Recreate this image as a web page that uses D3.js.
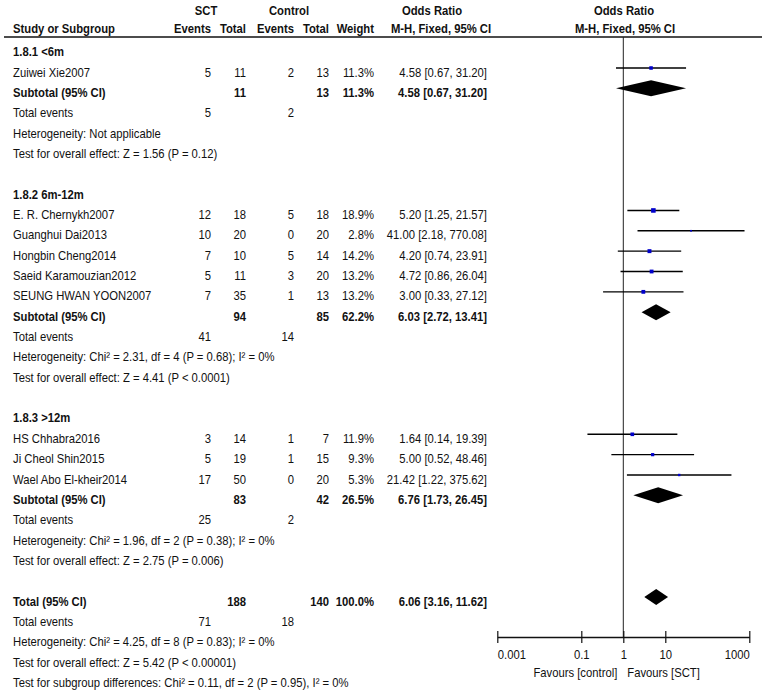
<!DOCTYPE html>
<html><head><meta charset="utf-8">
<script src="https://cdn.jsdelivr.net/npm/d3@7"></script>
<style>
html,body{margin:0;padding:0;background:#fff;}
svg text{font-family:"Liberation Sans",Arial,sans-serif;font-size:12px;fill:#111;}
</style></head>
<body>
<svg id="chart" width="762" height="692"></svg>
<script>
// ---- data ----
const groupLabels = ["1.8.1 <6m", "1.8.2 6m-12m", "1.8.3 >12m"];
const studyNames = ["Zuiwei Xie2007", "E. R. Chernykh2007", "Guanghui Dai2013", "Hongbin Cheng2014", "Saeid Karamouzian2012", "SEUNG HWAN YOON2007", "HS Chhabra2016", "Ji Cheol Shin2015", "Wael Abo El-kheir2014"];
const studyGroup = [0, 1, 1, 1, 1, 1, 2, 2, 2];
const sctEvents = [5, 12, 10, 7, 5, 7, 3, 5, 17];
const sctTotals = [11, 18, 20, 10, 11, 35, 14, 19, 50];
const ctrlEvents = [2, 5, 0, 5, 3, 1, 1, 1, 0];
const ctrlTotals = [13, 18, 20, 14, 20, 13, 7, 15, 20];
const weights = [11.3, 18.9, 2.8, 14.2, 13.2, 13.2, 11.9, 9.3, 5.3];
const orEst = [4.58, 5.20, 41.00, 4.20, 4.72, 3.00, 1.64, 5.00, 21.42];
const orLow = [0.67, 1.25, 2.18, 0.74, 0.86, 0.33, 0.14, 0.52, 1.22];
const orHigh = [31.20, 21.57, 770.08, 23.91, 26.04, 27.12, 19.39, 48.46, 375.62];

const subSctTotal = [11, 94, 83];
const subCtrlTotal = [13, 85, 42];
const subWeight = [11.3, 62.2, 26.5];
const subOr = [4.58, 6.03, 6.76];
const subLow = [0.67, 2.72, 1.73];
const subHigh = [31.20, 13.41, 26.45];
const subSctEvents = [5, 41, 25];
const subCtrlEvents = [2, 14, 2];
const subHet = ["Heterogeneity: Not applicable",
  "Heterogeneity: Chi² = 2.31, df = 4 (P = 0.68); I² = 0%",
  "Heterogeneity: Chi² = 1.96, df = 2 (P = 0.38); I² = 0%"];
const subTest = ["Test for overall effect: Z = 1.56 (P = 0.12)",
  "Test for overall effect: Z = 4.41 (P < 0.0001)",
  "Test for overall effect: Z = 2.75 (P = 0.006)"];

const totSct = 188, totCtrl = 140, totWeight = 100.0;
const totOr = 6.06, totLow = 3.16, totHigh = 11.62;
const totSctEvents = 71, totCtrlEvents = 18;
const totHet = "Heterogeneity: Chi² = 4.25, df = 8 (P = 0.83); I² = 0%";
const totTest = "Test for overall effect: Z = 5.42 (P < 0.00001)";
const subDiff = "Test for subgroup differences: Chi² = 0.11, df = 2 (P = 0.95), I² = 0%";

const tickValues = [0.001, 0.1, 1, 10, 1000];
const tickLabels = ["0.001", "0.1", "1", "10", "1000"];
const favLeft = "Favours [control]", favRight = "Favours [SCT]";

// ---- layout ----
const svg = d3.select("#chart");
const x = d3.scaleLog().domain([0.001, 1000]).range([497.3, 749.3]);
const rowY = i => 47.65 + 20.35 * i;
const TXT = 8.5; // baseline offset
const SX = 0.94; // horizontal condensing of the font
const col = {name: 13, se: 211, st: 246, ce: 294, ct: 329, w: 374, or: 487};
const f2 = d3.format(".2f"), f1 = d3.format(".1f");
const orText = (o, l, h) => `${f2(o)} [${f2(l)}, ${f2(h)}]`;

function txt(xp, y, s, anchor = "start", bold = false) {
  svg.append("text").attr("x", 0).attr("y", 0)
    .attr("transform", `translate(${xp},${y}) scale(${SX},1)`)
    .attr("text-anchor", anchor)
    .attr("font-weight", bold ? "bold" : "normal").text(s);
}

// header
txt(206, 15, "SCT", "middle", true);
txt(289, 15, "Control", "middle", true);
txt(432, 15, "Odds Ratio", "middle", true);
txt(624, 15, "Odds Ratio", "middle", true);
txt(col.name, 33, "Study or Subgroup", "start", true);
txt(col.se, 33, "Events", "end", true);
txt(col.st, 33, "Total", "end", true);
txt(col.ce, 33, "Events", "end", true);
txt(col.ct, 33, "Total", "end", true);
txt(col.w, 33, "Weight", "end", true);
txt(441, 33, "M-H, Fixed, 95% CI", "middle", true);
txt(625, 33, "M-H, Fixed, 95% CI", "middle", true);
svg.append("line").attr("x1", 4).attr("x2", 762).attr("y1", 37).attr("y2", 37)
  .attr("stroke", "#111").attr("stroke-width", 1.5);

// null line
svg.append("line").attr("x1", x(1)).attr("x2", x(1)).attr("y1", 37).attr("y2", 637)
  .attr("stroke", "#222").attr("stroke-width", 1);

function diamond(y, o, l, h) {
  const hh = 8;
  svg.append("path")
    .attr("d", `M${x(l)},${y} L${x(o)},${y - hh} L${x(h)},${y} L${x(o)},${y + hh} Z`)
    .attr("fill", "#000");
}

const groupStart = [0, 7, 18];
groupLabels.forEach((g, gi) => {
  let r = groupStart[gi];
  txt(col.name, rowY(r) + TXT, g, "start", true);
  r++;
  studyNames.forEach((n, si) => {
    if (studyGroup[si] !== gi) return;
    const y = rowY(r);
    txt(col.name, y + TXT, n);
    txt(col.se, y + TXT, sctEvents[si], "end");
    txt(col.st, y + TXT, sctTotals[si], "end");
    txt(col.ce, y + TXT, ctrlEvents[si], "end");
    txt(col.ct, y + TXT, ctrlTotals[si], "end");
    txt(col.w, y + TXT, f1(weights[si]) + "%", "end");
    txt(col.or, y + TXT, orText(orEst[si], orLow[si], orHigh[si]), "end");
    svg.append("line").attr("x1", x(orLow[si])).attr("x2", x(orHigh[si]))
      .attr("y1", y).attr("y2", y).attr("stroke", "#000").attr("stroke-width", 1.4);
    const s = Math.sqrt(weights[si]) * 1.05;
    svg.append("rect").attr("x", x(orEst[si]) - s / 2).attr("y", y - s / 2)
      .attr("width", s).attr("height", s).attr("fill", "#0000cc");
    r++;
  });
  let y = rowY(r);
  txt(col.name, y + TXT, "Subtotal (95% CI)", "start", true);
  txt(col.st, y + TXT, subSctTotal[gi], "end", true);
  txt(col.ct, y + TXT, subCtrlTotal[gi], "end", true);
  txt(col.w, y + TXT, f1(subWeight[gi]) + "%", "end", true);
  txt(col.or, y + TXT, orText(subOr[gi], subLow[gi], subHigh[gi]), "end", true);
  diamond(y, subOr[gi], subLow[gi], subHigh[gi]);
  r++;
  y = rowY(r);
  txt(col.name, y + TXT, "Total events");
  txt(col.se, y + TXT, subSctEvents[gi], "end");
  txt(col.ce, y + TXT, subCtrlEvents[gi], "end");
  r++;
  txt(col.name, rowY(r) + TXT, subHet[gi]);
  r++;
  txt(col.name, rowY(r) + TXT, subTest[gi]);
});

// overall
let ry = rowY(27);
txt(col.name, ry + TXT, "Total (95% CI)", "start", true);
txt(col.st, ry + TXT, totSct, "end", true);
txt(col.ct, ry + TXT, totCtrl, "end", true);
txt(col.w, ry + TXT, f1(totWeight) + "%", "end", true);
txt(col.or, ry + TXT, orText(totOr, totLow, totHigh), "end", true);
diamond(ry, totOr, totLow, totHigh);
ry = rowY(28);
txt(col.name, ry + TXT, "Total events");
txt(col.se, ry + TXT, totSctEvents, "end");
txt(col.ce, ry + TXT, totCtrlEvents, "end");
txt(col.name, rowY(29) + TXT, totHet);
txt(col.name, rowY(30) + TXT, totTest);
txt(col.name, rowY(31) + TXT, subDiff);

// axis
const axis = d3.axisBottom(x).tickValues(tickValues)
  .tickFormat((d, i) => tickLabels[i]).tickSizeInner(6).tickSizeOuter(0).tickPadding(6);
const ag = svg.append("g").attr("transform", "translate(0,637)").call(axis);
ag.select(".domain").attr("stroke", "#111").attr("stroke-width", 1.4);
ag.selectAll(".tick line").attr("y1", -6).attr("y2", 6).attr("stroke", "#111").attr("stroke-width", 1.2);
const nT = tickValues.length;
ag.selectAll(".tick text").attr("font-size", "12px").attr("fill", "#111")
  .style("font-family", '"Liberation Sans",Arial,sans-serif')
  .attr("y", 0).attr("dy", 0)
  .attr("transform", `translate(0,22) scale(${SX},1)`)
  .attr("text-anchor", (d, i) => i === 0 ? "start" : (i === nT - 1 ? "end" : "middle"));
txt(x(1) - 6, 677, favLeft, "end");
txt(x(1) + 4, 677, favRight, "start");
</script>
</body></html>
